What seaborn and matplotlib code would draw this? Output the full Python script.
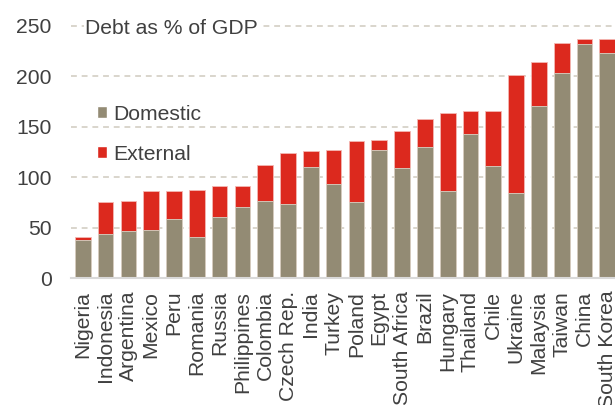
"""Stacked bar chart of government debt as % of GDP, domestic vs external."""
import pandas as pd
import seaborn as sns
import matplotlib.pyplot as plt
from matplotlib.patches import Patch

# Step 1: data
countries = ["Nigeria", "Indonesia", "Argentina", "Mexico", "Peru", "Romania", "Russia",
             "Philippines", "Colombia", "Czech Rep.", "India", "Turkey", "Poland", "Egypt",
             "South Africa", "Brazil", "Hungary", "Thailand", "Chile", "Ukraine", "Malaysia",
             "Taiwan", "China", "South Korea"]
domestic = [38, 44, 47, 48, 59, 41, 61, 71, 77, 74, 110, 93, 76, 127,
            109, 130, 86, 143, 111, 84, 171, 203, 232, 223]
external = [3, 32, 30, 38, 27, 46, 30, 20, 35, 50, 16, 34, 60, 10,
            37, 28, 78, 23, 55, 117, 43, 30, 5, 14]
y_ticks = [0, 50, 100, 150, 200, 250]

df = pd.DataFrame({"country": countries, "domestic": domestic, "external": external})
df["total"] = df["domestic"] + df["external"]

# Step 2: style
sns.set_style("white")
plt.rcParams["font.family"] = ["Liberation Sans", "DejaVu Sans"]
text_col = "#404040"
dom_col = "#938b74"
ext_col = "#dc291e"
fs = 15.2

fig = plt.figure(figsize=(6.15, 4.05), dpi=100)
ax = fig.add_axes([71 / 615, 1 - 278.3 / 405, 1 - 71 / 615, 267.7 / 405])

# Step 3: stacked bars (total in red, domestic drawn over it)
sns.barplot(data=df, x="country", y="total", color=ext_col, width=0.69,
            saturation=1, edgecolor="#f4b8b3", linewidth=0.6, ax=ax, zorder=3)
sns.barplot(data=df, x="country", y="domestic", color=dom_col, width=0.69,
            saturation=1, edgecolor="#d8d3c6", linewidth=0.6, ax=ax, zorder=3)

# Step 4: axes, grid and labels
ax.set_xlim(-0.518, 23.34)
ax.set_ylim(0, 265)
ax.set_yticks(y_ticks)
ax.set_xlabel("")
ax.set_ylabel("")
for s in ["top", "right", "left"]:
    ax.spines[s].set_visible(False)
ax.spines["bottom"].set_color("#d9d9d9")
ax.spines["bottom"].set_linewidth(1.5)
ax.spines["bottom"].set_zorder(4)
for v in y_ticks[1:]:
    ax.axhline(v, color="#d9d5cc", lw=1.4, ls=(0, (3, 2.5)), zorder=1)
ax.tick_params(axis="y", length=0, pad=14, labelsize=fs, labelcolor=text_col)
ax.tick_params(axis="x", length=0, pad=9, labelsize=fs, labelcolor=text_col, rotation=90)

fig.text(85 / 615, 1 - 29 / 405, "Debt as % of GDP", fontsize=fs, color=text_col,
         va="center", ha="left", bbox=dict(facecolor="white", edgecolor="none", pad=1))

handles = [Patch(facecolor=dom_col, label="Domestic"), Patch(facecolor=ext_col, label="External")]
fig.legend(handles=handles, loc="upper left", bbox_to_anchor=(86 / 615, 1 - 94 / 405),
           frameon=False, fontsize=fs, labelcolor=text_col, handlelength=0.5,
           handleheight=0.5, handletextpad=0.3, labelspacing=1.0, borderpad=0)

# Step 5: save
plt.savefig("out.png", dpi=100)
